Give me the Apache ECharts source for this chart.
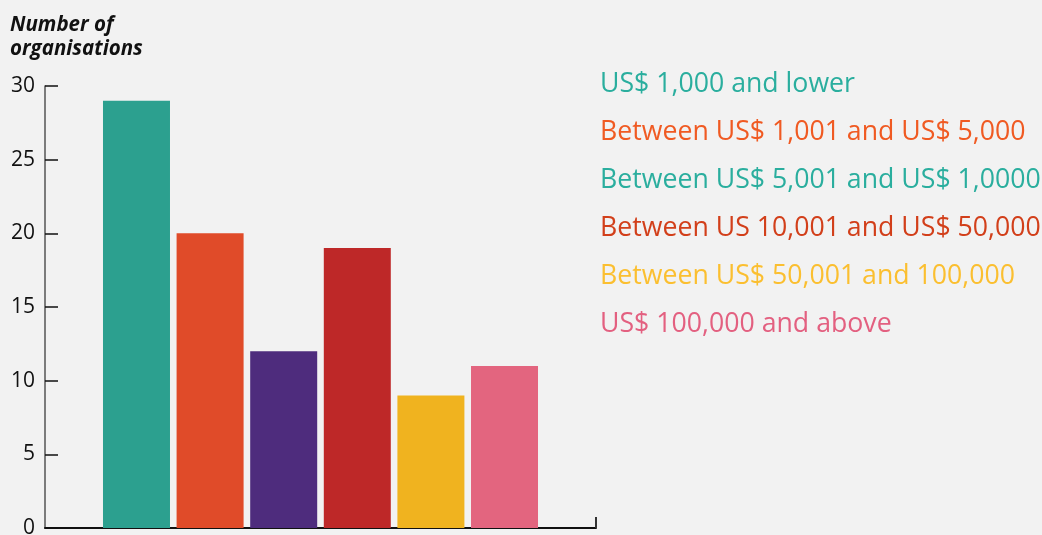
<!DOCTYPE html>
<html>
<head>
<meta charset="utf-8">
<script src="https://cdn.jsdelivr.net/npm/echarts@6/dist/echarts.min.js"></script>
<style>
  html, body { margin: 0; padding: 0; background: #f2f2f2; }
  #chart { width: 1042px; height: 535px; }
</style>
</head>
<body>
<div id="chart"></div>
<script>
  // bands of donation size
  const categories = [
    'US$ 1,000 and lower',
    'Between US$ 1,001 and US$ 5,000',
    'Between US$ 5,001 and US$ 1,0000',
    'Between US 10,001 and US$ 50,000',
    'Between US$ 50,001 and 100,000',
    'US$ 100,000 and above'
  ];
  const counts = [29, 20, 12, 19, 9, 11]; // number of organisations
  const barColors = ['#2ca08f', '#e04b29', '#4e2c7d', '#be2828', '#f0b31f', '#e3657f'];
  const legendColors = ['#2aae9e', '#f05a22', '#2aae9e', '#d23f1a', '#fbbf30', '#e36080'];
  const yTicks = [0, 5, 10, 15, 20, 25, 30];

  const FONT = '"Open Sans", "Noto Sans", sans-serif';
  const chart = echarts.init(document.getElementById('chart'));

  // one series per band so the legend lists them; stacked so they share position
  const series = categories.map(function (name, i) {
    return {
      name: name,
      type: 'bar',
      stack: 'all',
      barWidth: 67,
      itemStyle: { color: barColors[i] },
      data: [[i + 1, counts[i]]]
    };
  });

  const option = {
    backgroundColor: '#f2f2f2',
    animation: false,
    title: {
      text: 'Number of\norganisations',
      left: 5,
      top: 8,
      textStyle: {
        fontFamily: FONT,
        fontSize: 20.5,
        fontStyle: 'italic',
        fontWeight: 'bold',
        color: '#111',
        lineHeight: 24
      }
    },
    legend: {
      orient: 'vertical',
      left: 590,
      top: 64,
      icon: 'none',
      itemWidth: 0,
      itemHeight: 30,
      itemGap: 18,
      selectedMode: false,
      textStyle: { fontFamily: FONT, fontSize: 26.7, lineHeight: 30 },
      data: categories.map(function (name, i) {
        return { name: name, textStyle: { color: legendColors[i] } };
      })
    },
    grid: {
      left: 45,
      right: 446,
      top: 86,
      bottom: 7,
      outerBoundsMode: 'none',
      containLabel: false
    },
    xAxis: {
      type: 'value',
      min: -0.243,
      max: 7.243,
      splitLine: { show: false },
      axisLabel: { show: false },
      axisLine: { show: true, lineStyle: { color: '#111', width: 2 } },
      axisTick: {
        show: true,
        inside: true,
        length: 11,
        customValues: [7.243],
        lineStyle: { color: '#333', width: 2 }
      }
    },
    yAxis: {
      type: 'value',
      min: 0,
      max: 30,
      interval: 5,
      splitLine: { show: false },
      axisLine: { show: true, onZero: false, lineStyle: { color: '#555', width: 1.5 } },
      axisTick: {
        show: true,
        inside: true,
        length: 13,
        lineStyle: { color: '#111', width: 1.5 }
      },
      axisLabel: {
        margin: 10,
        fontFamily: FONT,
        fontSize: 21,
        color: '#111',
        customValues: yTicks
      }
    },
    series: series
  };

  chart.setOption(option);
</script>
</body>
</html>
